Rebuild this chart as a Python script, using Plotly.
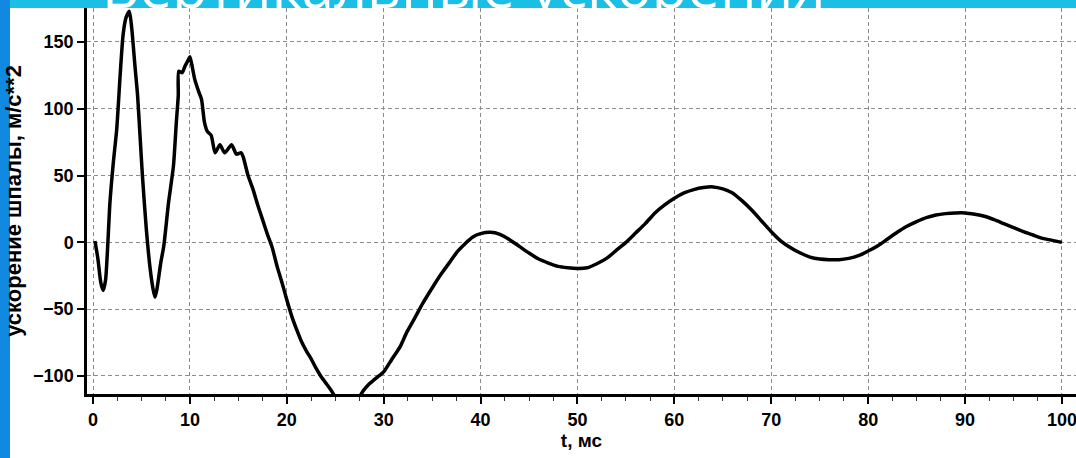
import plotly.graph_objects as go

# time, ms
t_ms = [0.2, 0.5, 0.8, 1.05, 1.3, 1.75, 2.1, 2.45, 2.8, 3.1, 3.4, 3.75, 4.0, 4.33, 4.6, 4.85,
        5.1, 5.5, 5.9, 6.2, 6.4, 6.6, 7.0, 7.3, 7.8, 8.3, 8.6, 8.8, 8.85, 9.2, 9.5, 9.8, 10.0,
        10.2, 10.5, 10.9, 11.2, 11.5, 11.8, 12.2, 12.6, 13.1, 13.6, 14.3, 14.8, 15.3, 15.5,
        16.0, 16.5, 17.0, 17.5, 18.0, 18.5, 19.0, 19.5, 20.0, 20.5, 21.0, 21.5, 22.0, 22.5,
        23.0, 23.5, 24.0, 24.6, 25.3, 26.2, 27.2, 27.9, 28.5, 29.0, 29.5, 30.0, 30.8, 31.7,
        32.4, 33.1, 34.0, 35.1, 36.0, 36.8, 37.6, 38.4, 39.2, 40.0, 41.0, 42.0, 43.0, 44.0,
        45.0, 46.0, 47.0, 48.0, 49.0, 50.0, 51.0, 52.0, 53.0, 54.0, 55.0, 56.0, 57.0, 58.0,
        59.0, 60.0, 61.0, 62.0, 63.0, 64.0, 65.0, 66.0, 67.0, 68.0, 69.0, 70.0, 71.0, 72.0,
        73.0, 74.0, 75.0, 76.0, 77.0, 78.0, 79.0, 80.0, 81.0, 82.0, 83.0, 84.0, 85.0, 86.0,
        87.0, 88.0, 89.0, 90.0, 91.0, 92.0, 93.0, 94.0, 95.0, 96.0, 97.0, 98.0, 99.0, 100.0]

# sleeper acceleration, m/s**2
accel = [1, -12, -30, -36, -28, 30, 60, 85, 125, 155, 168, 173, 160, 132, 110, 80,
         50, 10, -20, -35, -41, -35, -15, -3, 30, 57, 90, 110, 128, 127, 132, 136, 139,
         133, 122, 113, 107, 90, 83, 80, 67, 73, 67, 73, 66, 67, 64,
         50, 40, 28, 17, 6, -4, -18, -30, -43, -55, -65, -74, -81, -87,
         -94, -100, -105, -111, -119, -124, -119, -111, -106, -103, -100, -97, -88, -78,
         -67, -58, -46, -33, -23, -15, -7, -1, 4, 6.5, 7.5, 6, 2, -3,
         -8, -12.5, -15.5, -18, -19, -19.5, -19, -16, -12, -6, 0, 7, 14, 22,
         28, 33, 37, 39.5, 41, 41.5, 40, 37, 31, 24, 16, 8, 1, -4,
         -8, -11, -12.5, -13, -13, -12, -10, -6.5, -2.5, 2.5, 7.5, 12, 15.5, 18.5,
         20.5, 21.5, 22, 22, 21, 19.5, 17, 14, 11, 8, 5.5, 3, 1.5, 0]

x_ticks = [0, 10, 20, 30, 40, 50, 60, 70, 80, 90, 100]
y_ticks = [-100, -50, 0, 50, 100, 150]

W, H = 1076, 458
ML, MT, MB, MR = 87, 8, 64, 0
PW, PH = W - ML - MR, H - MT - MB

fig = go.Figure()
fig.add_trace(go.Scatter(
    x=t_ms, y=accel, mode="lines",
    line=dict(color="black", width=3.5, shape="spline", smoothing=0.6),
    showlegend=False, hoverinfo="skip", cliponaxis=True))

tickfont = dict(family="Liberation Sans, Arial", size=18, color="black", weight="bold")
grid = dict(showgrid=True, gridcolor="#8c8c8c", gridwidth=1, griddash="4px,3px")

fig.update_xaxes(
    range=[-0.62, 101.45], tickvals=x_ticks, ticks="outside", ticklen=7, tickwidth=1.5,
    tickcolor="black", showline=True, linecolor="black", linewidth=3, zeroline=False,
    tickfont=tickfont, automargin=False, ticklabeloverflow="allow",
    minor=dict(dtick=2.5, tick0=0, ticks="outside", ticklen=4, tickwidth=1, tickcolor="#333",
               showgrid=False),
    title=dict(text="t, мс", font=dict(family="Liberation Sans, Arial", size=19,
                                         color="black", weight="bold"), standoff=0),
    **grid)
fig.update_yaxes(
    range=[-113.5, 175.4], tickvals=y_ticks, ticks="outside", ticklen=7, tickwidth=1.5,
    tickcolor="black", showline=True, linecolor="black", linewidth=2.5, zeroline=False,
    tickfont=tickfont, automargin=False,
    title=dict(text="ускорение шпалы, м/с**2",
               font=dict(family="Liberation Sans, Arial", size=22, color="black",
                         weight="bold"), standoff=6),
    **grid)

# slide background strips (blue) around the chart image
shapes = [
    dict(type="rect", xref="paper", yref="paper",
         x0=-ML / PW, x1=(-ML + 10) / PW, y0=-MB / PH, y1=1 + MT / PH,
         fillcolor="#1289e0", line=dict(width=0), layer="above"),
    dict(type="rect", xref="paper", yref="paper",
         x0=(-ML + 10) / PW, x1=1.0, y0=1.0, y1=1 + MT / PH,
         fillcolor="#1bbee5", line=dict(width=0), layer="above"),
]

fig.update_layout(
    width=W, height=H,
    margin=dict(l=ML, r=MR, t=MT, b=MB, pad=0),
    paper_bgcolor="white", plot_bgcolor="white",
    shapes=shapes,
    annotations=[dict(
        text="Вертикальные ускорения", xref="paper", yref="paper",
        x=(100 - ML) / PW, y=1 - (27 - MT) / PH, xanchor="left", yanchor="bottom",
        showarrow=False, font=dict(family="Open Sans", size=58, color="white"))],
)

fig.write_html("out.html", config={"displayModeBar": False},
               post_script="document.body.style.margin='0';document.body.style.overflow='hidden';")
